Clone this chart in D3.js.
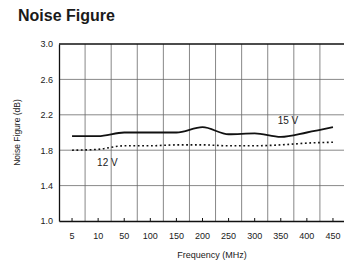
<!DOCTYPE html>
<html>
<head>
<meta charset="utf-8">
<script src="https://cdn.jsdelivr.net/npm/d3@7"></script>
<style>
  html, body { margin: 0; padding: 0; background: #fff; }
  #chart { width: 344px; height: 263px; overflow: hidden; }
  text { font-family: "Liberation Sans", Arial, sans-serif; fill: #1a1a1a; }
  .axis path, .axis line { stroke: #111; }
  .grid line { stroke: #6a6a6a; stroke-width: 0.8; }
</style>
</head>
<body>
<div id="chart"></div>
<script>
const freqLabels = ["5", "10", "50", "100", "150", "200", "250", "300", "350", "400", "450"];
const nf15 = [1.96, 1.96, 2.00, 2.00, 2.00, 2.06, 1.98, 1.99, 1.95, 2.00, 2.06];
const nf12 = [1.80, 1.81, 1.85, 1.85, 1.86, 1.86, 1.85, 1.85, 1.86, 1.88, 1.89];
const yTicks = [1.0, 1.4, 1.8, 2.2, 2.6, 3.0];

function renderNoiseFigure(selector) {
    const W = 344, H = 263;
    const margin = {top: 44, right: -2, bottom: 42, left: 59};
    const width = W - margin.left - margin.right;
    const height = H - margin.top - margin.bottom;

    const svg = d3.select(selector).append("svg")
        .attr("width", W)
        .attr("height", H);

    svg.append("text")
        .attr("x", 18)
        .attr("y", 21)
        .attr("font-size", 16)
        .attr("font-weight", "bold")
        .text("Noise Figure");

    const g = svg.append("g")
        .attr("transform", `translate(${margin.left}, ${margin.top})`);

    const x = d3.scaleBand()
        .domain(freqLabels)
        .range([0, width])
        .padding(0);

    const y = d3.scaleLinear()
        .domain([1.0, 3.0])
        .range([height, 0]);

    // grid
    g.append("g")
        .attr("class", "grid")
        .selectAll("line.h")
        .data(yTicks.filter(d => d > 1.0 && d < 3.0))
        .enter()
        .append("line")
        .attr("x1", 0)
        .attr("x2", width)
        .attr("y1", d => y(d))
        .attr("y2", d => y(d));

    g.append("g")
        .attr("class", "grid")
        .selectAll("line.v")
        .data(freqLabels.slice(1))
        .enter()
        .append("line")
        .attr("x1", d => x(d))
        .attr("x2", d => x(d))
        .attr("y1", 0)
        .attr("y2", height);

    // top border
    g.append("line")
        .attr("x1", 0).attr("x2", width)
        .attr("y1", y(3.0)).attr("y2", y(3.0))
        .attr("stroke", "#111")
        .attr("stroke-width", 1.3);

    g.append("g")
        .attr("class", "axis axis-x")
        .attr("transform", `translate(0, ${height})`)
        .call(d3.axisBottom(x).tickSizeInner(-3).tickSizeOuter(0).tickPadding(12))
        .call(s => s.select(".domain").attr("stroke-width", 1.3))
        .call(s => s.selectAll("text").attr("font-size", 9));

    g.append("g")
        .attr("class", "axis axis-y")
        .call(d3.axisLeft(y).tickValues(yTicks).tickFormat(d3.format(".1f")).tickSize(0).tickPadding(6))
        .call(s => s.select(".domain").attr("stroke-width", 1.3))
        .call(s => s.selectAll("text").attr("font-size", 9));

    const line = d3.line()
        .x((d, i) => x(freqLabels[i]) + x.bandwidth() / 2)
        .y(d => y(d))
        .curve(d3.curveMonotoneX);

    g.append("path")
        .datum(nf15)
        .attr("d", line)
        .attr("fill", "none")
        .attr("stroke", "#111")
        .attr("stroke-width", 1.8);

    g.append("path")
        .datum(nf12)
        .attr("d", line)
        .attr("fill", "none")
        .attr("stroke", "#111")
        .attr("stroke-width", 1.6)
        .attr("stroke-dasharray", "1.8,2.6");

    g.append("text")
        .attr("x", x("350") + 10)
        .attr("y", y(2.1))
        .attr("font-size", 10)
        .text("15 V");

    g.append("text")
        .attr("x", x("10") + 12)
        .attr("y", y(1.62))
        .attr("font-size", 10)
        .text("12 V");

    svg.append("text")
        .attr("x", margin.left + 153)
        .attr("y", 258)
        .attr("text-anchor", "middle")
        .attr("font-size", 9)
        .text("Frequency (MHz)");

    svg.append("text")
        .attr("transform", `translate(20, ${margin.top + height / 2}) rotate(-90)`)
        .attr("text-anchor", "middle")
        .attr("font-size", 8.5)
        .text("Noise Figure (dB)");
}

renderNoiseFigure("#chart");
</script>
</body>
</html>
